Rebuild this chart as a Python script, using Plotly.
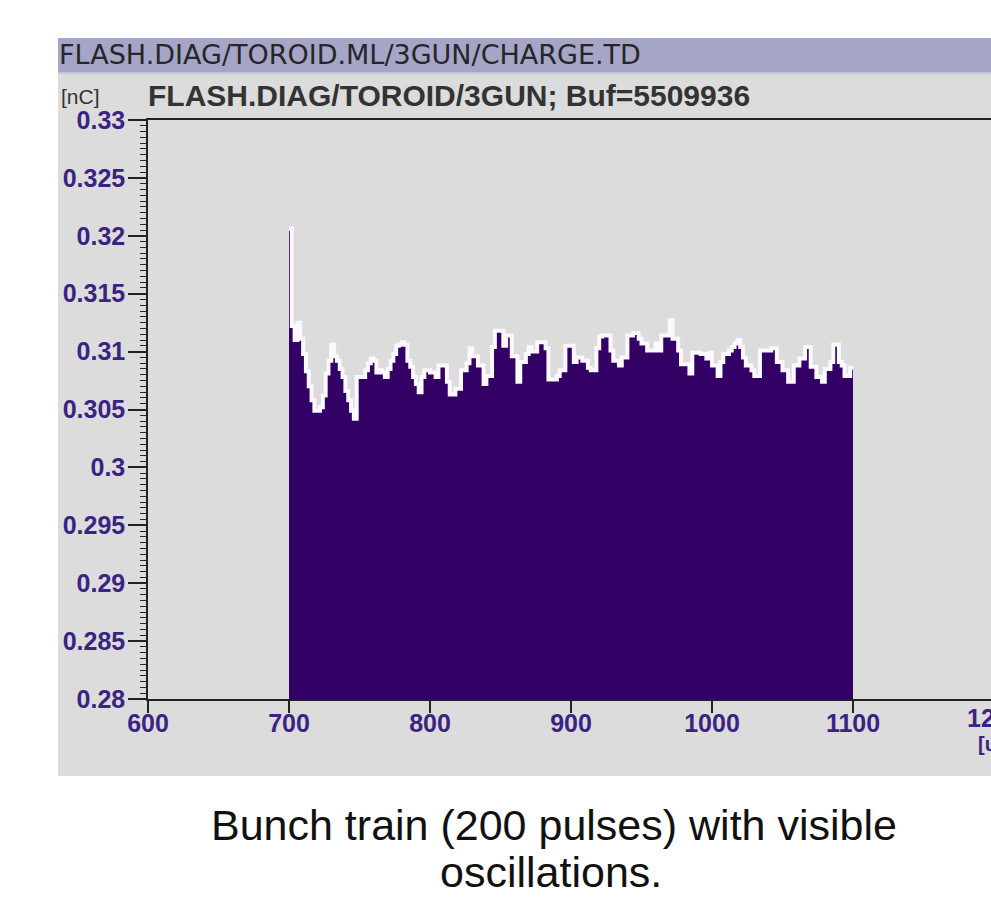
import plotly.graph_objects as go

# ---------------- data ----------------
pulse_start_us = 700          # first bunch time [us]
pulse_spacing_us = 2          # bunch spacing [us]
charge_nC = [
    0.3206, 0.3122, 0.3110, 0.3125, 0.3111, 0.3098, 0.3083, 0.3070, 0.3058, 0.3049,
    0.3049, 0.3052, 0.3062, 0.3081, 0.3092, 0.3106, 0.3096, 0.3092, 0.3085, 0.3078,
    0.3066, 0.3058, 0.3049, 0.3042, 0.3078, 0.3078, 0.3078, 0.3084, 0.3090, 0.3094,
    0.3092, 0.3082, 0.3084, 0.3082, 0.3078, 0.3085, 0.3092, 0.3098, 0.3105, 0.3106,
    0.3108, 0.3106, 0.3092, 0.3087, 0.3078, 0.3072, 0.3065, 0.3078, 0.3084, 0.3084,
    0.3082, 0.3082, 0.3078, 0.3088, 0.3088, 0.3088, 0.3074, 0.3063, 0.3063, 0.3068,
    0.3068, 0.3084, 0.3084, 0.3090, 0.3103, 0.3096, 0.3096, 0.3088, 0.3088, 0.3072,
    0.3079, 0.3079, 0.3104, 0.3118, 0.3118, 0.3118, 0.3105, 0.3114, 0.3114, 0.3096,
    0.3096, 0.3074, 0.3091, 0.3091, 0.3098, 0.3104, 0.3100, 0.3100, 0.3108, 0.3108,
    0.3108, 0.3103, 0.3076, 0.3076, 0.3076, 0.3079, 0.3084, 0.3084, 0.3105, 0.3105,
    0.3105, 0.3091, 0.3095, 0.3095, 0.3092, 0.3092, 0.3086, 0.3084, 0.3084, 0.3103,
    0.3113, 0.3114, 0.3114, 0.3114, 0.3101, 0.3092, 0.3092, 0.3088, 0.3095, 0.3095,
    0.3114, 0.3114, 0.3116, 0.3116, 0.3111, 0.3107, 0.3107, 0.3101, 0.3101, 0.3101,
    0.3107, 0.3101, 0.3114, 0.3114, 0.3114, 0.3127, 0.3111, 0.3111, 0.3101, 0.3089,
    0.3089, 0.3089, 0.3081, 0.3099, 0.3099, 0.3099, 0.3098, 0.3098, 0.3094, 0.3099,
    0.3088, 0.3088, 0.3079, 0.3091, 0.3098, 0.3098, 0.3101, 0.3104, 0.3107, 0.3110,
    0.3104, 0.3095, 0.3088, 0.3088, 0.3084, 0.3079, 0.3079, 0.3101, 0.3101, 0.3101,
    0.3101, 0.3103, 0.3103, 0.3091, 0.3091, 0.3084, 0.3084, 0.3074, 0.3074, 0.3088,
    0.3088, 0.3094, 0.3094, 0.3104, 0.3104, 0.3087, 0.3087, 0.3078, 0.3078, 0.3074,
    0.3085, 0.3085, 0.3091, 0.3106, 0.3106, 0.3091, 0.3088, 0.3079, 0.3079, 0.3086,
]
x_tick_vals = [600, 700, 800, 900, 1000, 1100, 1200]
x_tick_text = ["600", "700", "800", "900", "1000", "1100", "1200"]
y_tick_vals = [0.28, 0.285, 0.29, 0.295, 0.30, 0.305, 0.31, 0.315, 0.32, 0.325, 0.33]
y_tick_text = ["0.28", "0.285", "0.29", "0.295", "0.3", "0.305", "0.31", "0.315", "0.32", "0.325", "0.33"]

header_text = "FLASH.DIAG/TOROID.ML/3GUN/CHARGE.TD"
plot_title = "FLASH.DIAG/TOROID/3GUN; Buf=5509936"
y_unit = "[nC]"
x_unit = "[us]"
caption_1 = "Bunch train (200 pulses) with visible"
caption_2 = "oscillations."

# ---------------- geometry ----------------
W, H = 991, 906
L, R, T, B = 148, 0, 120, 207
PW, PH = W - L - R, H - T - B
X_RANGE = [600, 600 + PW / 1.41]
Y_RANGE = [0.28, 0.33]

def px(xp):
    return (xp - L) / PW

def py(yp):
    return (H - B - yp) / PH

times = [pulse_start_us + pulse_spacing_us * (i + 0.5) for i in range(len(charge_nC))]
edges = [pulse_start_us + pulse_spacing_us * i for i in range(len(charge_nC) + 1)]

BAR = "#330066"
GRAY = "#dcdcdc"
BAND = "#a5a5c8"
TICKC = "#3b2383"
TICKFONT = dict(family="Liberation Sans", size=25, color=TICKC, weight="bold")

fig = go.Figure()
fig.add_trace(go.Scatter(
    x=edges, y=charge_nC + [charge_nC[-1]], mode="lines", line_shape="hv",
    line=dict(color="#fbf8ff", width=4), hoverinfo="skip", showlegend=False))
fig.add_trace(go.Bar(
    x=times, y=charge_nC, width=pulse_spacing_us, marker=dict(color=BAR, line=dict(width=0)),
    showlegend=False))

fig.update_layout(
    width=W, height=H, margin=dict(l=L, r=R, t=T, b=B, pad=0),
    paper_bgcolor="white", plot_bgcolor=GRAY, bargap=0,
    xaxis=dict(range=X_RANGE, tickvals=x_tick_vals, ticktext=x_tick_text,
               ticks="outside", ticklen=12, tickwidth=1.5, tickcolor="#222",
               ticklabelstandoff=-11,
               showline=True, linecolor="#222", linewidth=1.5, mirror=True,
               showgrid=False, zeroline=False, tickfont=TICKFONT),
    yaxis=dict(range=Y_RANGE, tickvals=y_tick_vals, ticktext=y_tick_text,
               ticks="outside", ticklen=18, tickwidth=1.5, tickcolor="#222",
               ticklabelstandoff=-2,
               showline=True, linecolor="#222", linewidth=1.5,
               showgrid=False, zeroline=False,
               minor=dict(tickvals=[round(0.28 + 0.0005 * k, 4) for k in range(101)],
                          ticks="outside", ticklen=6, tickwidth=1, tickcolor="#222"),
               tickfont=TICKFONT),
)

# panel and header band
fig.add_shape(type="rect", xref="paper", yref="paper", x0=px(58), x1=px(W + 5), y0=py(776), y1=py(38),
              fillcolor=GRAY, line=dict(width=0), layer="below")
fig.add_shape(type="rect", xref="paper", yref="paper", x0=px(58), x1=px(W + 5), y0=py(72), y1=py(38),
              fillcolor=BAND, line=dict(width=0), layer="below")
fig.add_shape(type="rect", xref="paper", yref="paper", x0=px(58), x1=px(W + 5), y0=py(74), y1=py(72),
              fillcolor="#c4c4d8", line=dict(width=0), layer="below")

def ann(text, x, y, size, color="#2a2a2a", family="Liberation Sans", weight="normal", xanchor="left"):
    fig.add_annotation(text=text, xref="paper", yref="paper", x=px(x), y=py(y),
                       xanchor=xanchor, yanchor="middle", showarrow=False,
                       font=dict(family=family, size=size, color=color, weight=weight))

ann(header_text, 57, 54, 27, color="#262626", family="DejaVu Sans")
ann(y_unit, 59, 96, 21, color="#333333")
ann(plot_title, 146, 95, 30, color="#333333", weight="bold")
ann("1200", 149 + 600 * 1.41, 718, 25, color=TICKC, weight="bold", xanchor="center")
ann(x_unit, 976, 744, 20, color=TICKC, weight="bold")
ann(caption_1, 554, 825, 43, color="#111111", xanchor="center")
ann(caption_2, 551, 872, 43, color="#111111", xanchor="center")

fig.write_html("out.html")
